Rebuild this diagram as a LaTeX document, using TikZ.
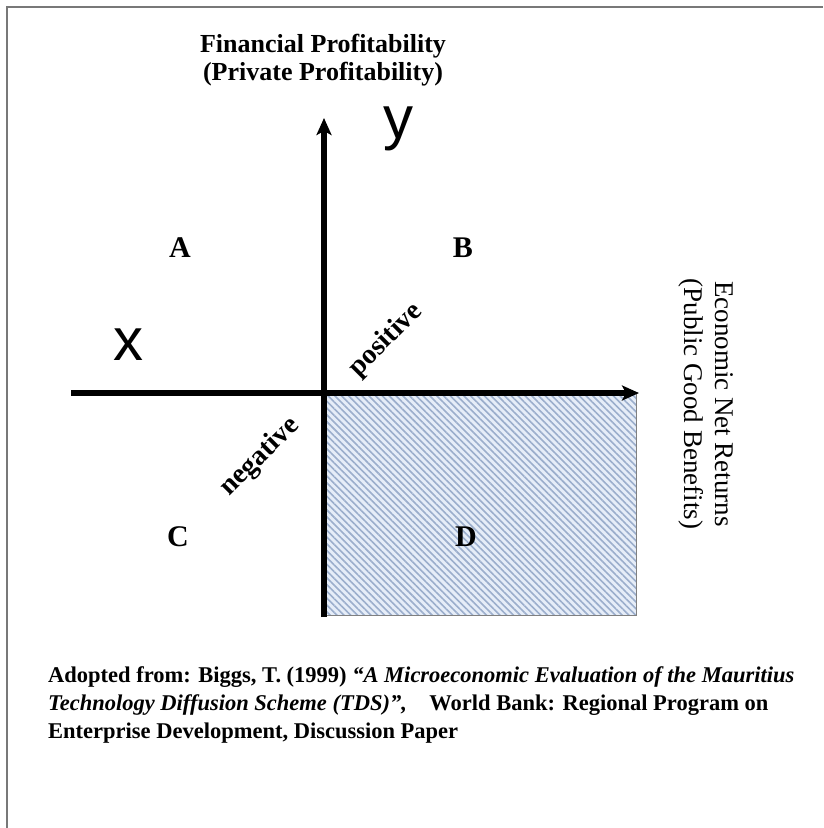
\documentclass[tikz,border=0pt]{standalone}
\usepackage{fontspec}
\setmainfont{Liberation Serif}
\newfontfamily\arialfont{Liberation Sans}
\usetikzlibrary{arrows.meta,patterns.meta}
\definecolor{hatchbg}{RGB}{230,237,248}
\definecolor{hatchfg}{RGB}{155,174,204}
\definecolor{framegray}{RGB}{120,120,120}
\tikzset{
  axis/.style={line width=5.5pt, -{Stealth[length=17pt,width=15pt,inset=4pt]}},
  quad/.style={font=\fontsize{30}{34}\selectfont\bfseries, inner sep=0pt},
  axislabel/.style={font=\fontsize{26}{28}\selectfont\bfseries, align=center, inner sep=0pt},
  sidelabel/.style={font=\fontsize{27}{31}\selectfont, align=center, inner sep=0pt, rotate=-90},
  sign/.style={font=\fontsize{28}{30}\selectfont\bfseries, rotate=45, inner sep=0pt},
  var/.style={font=\arialfont\fontsize{60}{60}\selectfont, inner sep=0pt},
  caption/.style={font=\fontsize{22.5}{28}\selectfont\bfseries, align=left, anchor=base west, inner sep=0pt}
}
\begin{document}
\begin{tikzpicture}[x=1pt,y=-1pt]
\useasboundingbox (0,0) rectangle (823,828);
\fill[white] (0,0) rectangle (823,828);
\draw[framegray, line width=2pt] (7,828) -- (7,7) -- (823,7);
% shaded quadrant D
\coordinate (O) at (324,393);
\coordinate (Dbr) at (636,615);
\fill[hatchbg] (O) rectangle (Dbr);
\fill[pattern={Lines[angle=-45,distance=4.8pt,line width=1.6pt]}, pattern color=hatchfg] (O) rectangle (Dbr);
\draw[gray, line width=0.8pt] (O) rectangle (Dbr);
% axes
\coordinate (ytop) at (324,118);
\coordinate (ybot) at (324,617);
\coordinate (xleft) at (71,393);
\coordinate (xright) at (639,393);
\draw[axis] (ybot) -- (ytop);
\draw[axis] (xleft) -- (xright);
% labels
\node[axislabel, anchor=base] (ttl) at (323,80) {Financial Profitability\\(Private Profitability)};
\node[sidelabel] (side) at (706,404) {Economic Net Returns\\(Public Good Benefits)};
\node[var] (yv) at (398,129) {y};
\node[var] (xv) at (128,345) {x};
\node[quad] (A) at (180,248) {A};
\node[quad] (B) at (463,248) {B};
\node[quad] (C) at (178,537) {C};
\node[quad] (D) at (466,537) {D};
\node[sign] (pos) at (386,340) {positive};
\node[sign] (neg) at (260,457) {negative};
\node[caption] (cap) at (48,738) {Adopted from: Biggs, T. (1999) \textit{“A Microeconomic Evaluation of the Mauritius}\\\textit{Technology Diffusion Scheme (TDS)”,}\quad World Bank: Regional Program on\\Enterprise Development, Discussion Paper};
\end{tikzpicture}
\end{document}
